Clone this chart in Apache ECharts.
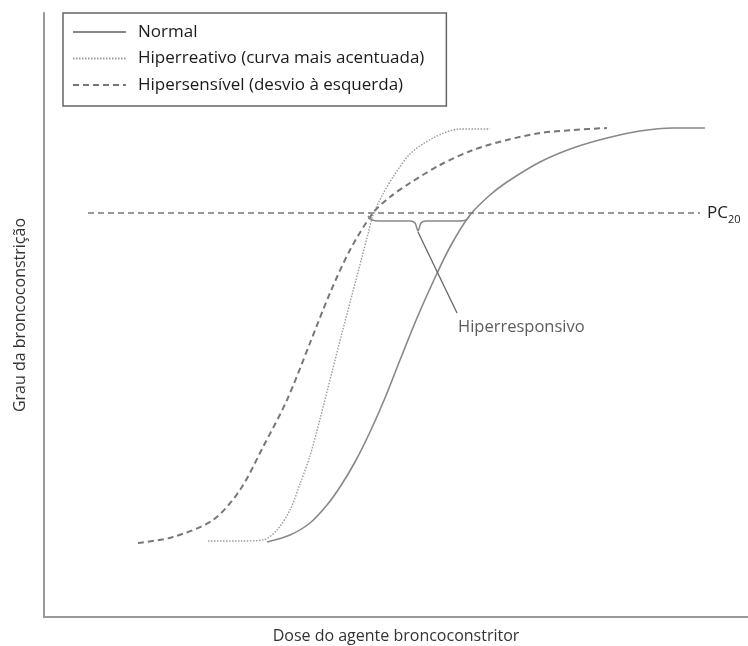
<!DOCTYPE html>
<html><head><meta charset="utf-8">
<script src="https://cdn.jsdelivr.net/npm/echarts@6/dist/echarts.min.js"></script>
<style>html,body{margin:0;padding:0;background:#fff}#c{width:748px;height:646px}</style>
</head><body><div id="c"></div>
<script>
// Curves: [dose, grau] in arbitrary units
const normal = [[55.75,18.75],[61.5,20.5],[66.5,23.5],[70.75,28],[74,32.5],[77.75,38.75],[81.5,46.25],[85.25,54.75],[89,64.25],[93.25,74.75],[97.25,83.75],[101.5,92.5],[106.5,100.5],[111.5,105.5],[115.75,108.75],[124,113.75],[132.25,117.25],[140.75,119.75],[149,121.5],[157.25,122.25],[165.25,122.25]];
const hiperreativo = [[41,19],[49,19],[54.75,19.25],[58.25,21.75],[61.5,26.75],[64,33.25],[66.5,40.25],[69,49.5],[72,61.25],[74.5,71],[77,80.5],[79.5,90],[81,95.75],[82.25,100.5],[84.75,105.75],[87.25,110],[91.5,115.75],[97.25,119.75],[104,122],[111.5,122]];
const hipersensivel = [[23.5,18.5],[32.25,20],[42.25,24.25],[49,31.75],[54.75,42.5],[60.75,54.25],[66.5,68.5],[71.5,81],[76.5,91.75],[82.25,101],[86.5,105],[91.5,108.5],[99,113],[107.25,116.75],[115.75,119.25],[124,121],[132.25,121.75],[140.75,122.25]];
const pc20 = [[11,101],[164,101]];
const chave = [[81,100.25],[82,99.25],[84,99],[91.5,99],[92.75,98.5],[93.5,96.5],[94.25,98.5],[95.5,99],[103.5,99],[105.5,99.25],[106.5,100.5]];
const ponteiro = [[93.5,96.25],[103.25,76]];
const rotulo = [[102.25,72.5]];
const names = ['Normal','Hiperreativo (curva mais acentuada)','Hipersensível (desvio à esquerda)'];

const font = 'Open Sans';
const chart = echarts.init(document.getElementById('c'));
chart.setOption({
  animation:false,
  textStyle:{fontFamily:font},
  grid:{left:44,right:0,top:13,bottom:29,outerBoundsMode:'none',containLabel:false},
  legend:{
    data:names, orient:'vertical', left:63, top:13,
    itemWidth:53, itemHeight:14, itemGap:9.5,
    padding:[10.5,22,12.5,9],
    borderColor:'#666', borderWidth:1.5,
    itemStyle:{opacity:0},
    textStyle:{fontSize:17, color:'#1a1a1a', fontFamily:font, padding:[0,0,0,7]}
  },
  xAxis:{type:'value',min:0,max:176,
    name:'Dose do agente broncoconstritor',nameLocation:'middle',nameGap:11,
    nameTextStyle:{fontSize:16,color:'#333',fontFamily:font},
    axisLine:{show:true,lineStyle:{color:'#999',width:2}},
    axisTick:{show:false},axisLabel:{show:false},splitLine:{show:false}},
  yAxis:{type:'value',min:0,max:151,
    name:'Grau da broncoconstrição',nameLocation:'middle',nameGap:16,
    nameTextStyle:{fontSize:16,color:'#333',fontFamily:font},
    axisLine:{show:true,lineStyle:{color:'#999',width:2}},
    axisTick:{show:false},axisLabel:{show:false},splitLine:{show:false}},
  series:[
    {name:names[0],type:'line',data:normal,smooth:0.3,symbol:'none',
     lineStyle:{color:'#888',width:1.6,type:'solid'},itemStyle:{color:'#888'}},
    {name:names[1],type:'line',data:hiperreativo,smooth:0.3,symbol:'none',
     lineStyle:{color:'#999',width:1.4,type:[1.5,1.5]},itemStyle:{color:'#999'}},
    {name:names[2],type:'line',data:hipersensivel,smooth:0.3,symbol:'none',
     lineStyle:{color:'#777',width:2,type:[6,4]},itemStyle:{color:'#777'}},
    {name:'PC20',type:'line',data:pc20,symbol:'none',
     lineStyle:{color:'#777',width:1.5,type:[6,4]},
     endLabel:{show:true,distance:7,formatter:'{a|PC}{b|20}',
       rich:{a:{fontSize:17,color:'#222',fontFamily:font,lineHeight:24,verticalAlign:'middle'},
             b:{fontSize:11,color:'#222',fontFamily:font,lineHeight:24,verticalAlign:'bottom',padding:[10,0,0,0]}}}},
    {name:'chave',type:'line',data:chave,smooth:0.3,symbol:'none',
     lineStyle:{color:'#888',width:1.5}},
    {name:'ponteiro',type:'line',data:ponteiro,symbol:'none',
     lineStyle:{color:'#666',width:1.3}},
    {name:'rotulo',type:'scatter',data:rotulo,symbolSize:0,
     label:{show:true,position:'right',distance:5,formatter:'Hiperresponsivo',fontSize:16.5,color:'#333',fontFamily:font}}
  ]
});
</script></body></html>
